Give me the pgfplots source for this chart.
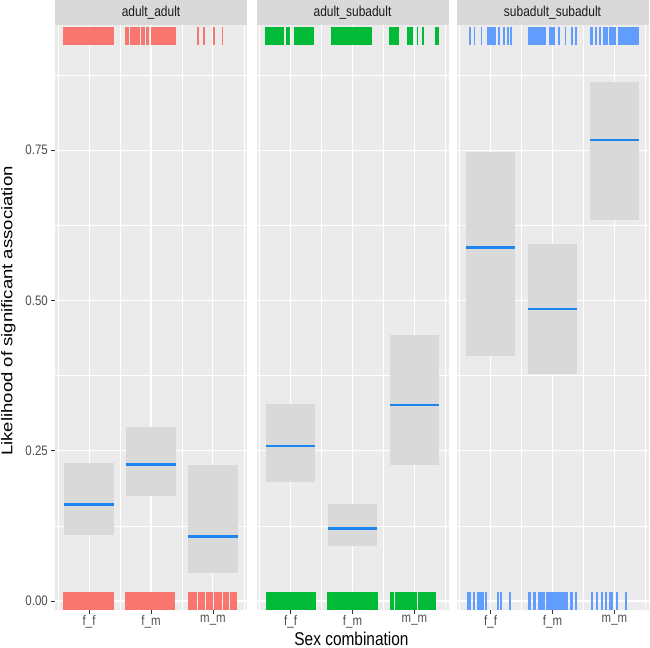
\documentclass[border=0pt]{standalone}
\usepackage{pgfplots}
\pgfplotsset{compat=1.18}
\usepackage{fontspec}
\setmainfont{Liberation Sans}

\definecolor{panelbg}{HTML}{EBEBEB}
\definecolor{stripbg}{HTML}{D9D9D9}
\definecolor{cibox}{HTML}{D9D9D9}
\definecolor{estblue}{HTML}{1C86EE}
\definecolor{rugred}{HTML}{F8766D}
\definecolor{ruggreen}{HTML}{00BA38}
\definecolor{rugblue}{HTML}{619CFF}
\definecolor{ticktext}{HTML}{4D4D4D}
\definecolor{tickcol}{HTML}{333333}

% interval box + estimate line: left, right, low, estimate, high
\newcommand{\ci}[5]{%
  \addplot[fill=cibox, draw=none] coordinates {(#1,#3) (#2,#3) (#2,#5) (#1,#5)};
  \addplot[estblue, line width=2.6bp] coordinates {(#1,#4) (#2,#4)};
}

\pgfplotsset{
  facet/.style={
    scale only axis, width=192bp, height=584.5bp,
    xmin=0.45, xmax=3.55, ymin=-0.015, ymax=0.9576,
    axis background/.style={fill=panelbg},
    axis line style={draw=none},
    xtick={1,2,3}, xticklabels={f\_f,f\_m,m\_m},
    minor xtick={0.5,1.5,2.5,3.5},
    ytick={0,0.25,0.5,0.75},
    minor ytick={0.125,0.375,0.625,0.875},
    grid=both,
    major grid style={white, line width=1.1bp},
    minor grid style={white, line width=0.55bp},
    tick align=outside, tick pos=left,
    major tick length=3.7bp, minor tick length=0pt,
    tick style={tickcol, line width=0.6bp},
    ticklabel style={font=\fontsize{11.5}{13}\selectfont, text=ticktext, yscale=1.2},
    xticklabel style={inner sep=1bp},
    /pgf/number format/assume math mode=true,
    yticklabel style={/pgf/number format/fixed, /pgf/number format/fixed zerofill, /pgf/number format/precision=2},
    every axis title shift=0pt,
    title style={fill=stripbg, minimum width=192bp, minimum height=21.25bp, inner sep=0pt,
      anchor=south, yscale=1.2, text=black!90, font=\fontsize{12}{14}\selectfont},
  },
  noy/.style={yticklabels={}, ytick style={draw=none}},
  rug/.style={only marks, mark=|, mark size=9bp, color=#1, line width=1.9bp},
}

\begin{document}
\begin{tikzpicture}
\useasboundingbox (0bp,-38bp) rectangle (650bp,610bp);

\begin{axis}[facet, at={(55bp,0bp)}, anchor=south west, title={adult\_adult},
  ylabel={Likelihood of significant association},
  every axis y label/.style={at={(axis description cs:-0.281,0.5115)}, rotate=90, xscale=1.2,
    anchor=north, inner sep=0pt, font=\fontsize{15.5}{18}\selectfont, text=black}]
\ci{0.6}{1.4}{0.109}{0.161}{0.230}
\ci{1.6}{2.4}{0.175}{0.227}{0.289}
\ci{2.6}{3.4}{0.046}{0.107}{0.227}
\addplot[rug=rugred] coordinates {
(0.60,0.94)(0.63,0.94)(0.66,0.94)(0.69,0.94)(0.72,0.94)(0.75,0.94)(0.78,0.94)(0.81,0.94)(0.84,0.94)
(0.87,0.94)(0.90,0.94)(0.93,0.94)(0.96,0.94)(0.99,0.94)(1.02,0.94)(1.05,0.94)(1.08,0.94)(1.11,0.94)
(1.14,0.94)(1.17,0.94)(1.20,0.94)(1.23,0.94)(1.26,0.94)(1.29,0.94)(1.32,0.94)(1.35,0.94)(1.38,0.94)
(1.60,0.94)(1.63,0.94)(1.68,0.94)(1.71,0.94)(1.74,0.94)(1.77,0.94)(1.80,0.94)(1.86,0.94)(1.89,0.94)
(1.93,0.94)(1.96,0.94)(2.02,0.94)(2.05,0.94)(2.08,0.94)(2.11,0.94)(2.14,0.94)(2.17,0.94)(2.20,0.94)
(2.23,0.94)(2.26,0.94)(2.29,0.94)(2.32,0.94)(2.36,0.94)(2.39,0.94)
(2.765,0.94)(2.854,0.94)(3.024,0.94)(3.155,0.94)
};
\addplot[rug=rugred] coordinates {
(0.60,0)(0.63,0)(0.66,0)(0.69,0)(0.72,0)(0.75,0)(0.78,0)(0.81,0)(0.84,0)
(0.87,0)(0.90,0)(0.93,0)(0.96,0)(0.99,0)(1.02,0)(1.05,0)(1.08,0)(1.11,0)
(1.14,0)(1.17,0)(1.20,0)(1.23,0)(1.26,0)(1.29,0)(1.32,0)(1.35,0)(1.38,0)
(1.60,0)(1.63,0)(1.66,0)(1.69,0)(1.72,0)(1.75,0)(1.78,0)(1.81,0)(1.84,0)
(1.87,0)(1.90,0)(1.93,0)(1.96,0)(1.99,0)(2.02,0)(2.05,0)(2.08,0)(2.11,0)
(2.14,0)(2.17,0)(2.20,0)(2.23,0)(2.26,0)(2.29,0)(2.32,0)(2.35,0)(2.38,0)
(2.62,0)(2.65,0)(2.68,0)(2.71,0)(2.73,0)(2.775,0)(2.80,0)(2.83,0)(2.86,0)
(2.91,0)(2.94,0)(2.97,0)(2.99,0)(3.03,0)(3.06,0)(3.09,0)(3.12,0)(3.13,0)
(3.175,0)(3.20,0)(3.23,0)(3.25,0)(3.29,0)(3.32,0)(3.35,0)(3.37,0)
};
\end{axis}

\begin{axis}[facet, noy, at={(256.5bp,0bp)}, anchor=south west, title={adult\_subadult}]
\ci{0.6}{1.4}{0.198}{0.258}{0.327}
\ci{1.6}{2.4}{0.091}{0.121}{0.161}
\ci{2.6}{3.4}{0.227}{0.326}{0.442}
\addplot[rug=ruggreen] coordinates {
(0.595,0.94)(0.625,0.94)(0.655,0.94)(0.685,0.94)(0.715,0.94)(0.745,0.94)(0.775,0.94)(0.805,0.94)
(0.835,0.94)(0.865,0.94)(0.885,0.94)(0.945,0.94)(0.98,0.94)(1.067,0.94)(1.097,0.94)(1.127,0.94)
(1.157,0.94)(1.187,0.94)(1.217,0.94)(1.247,0.94)(1.277,0.94)(1.307,0.94)(1.337,0.94)(1.365,0.94)
(1.665,0.94)(1.695,0.94)(1.725,0.94)(1.755,0.94)(1.785,0.94)(1.815,0.94)(1.845,0.94)(1.875,0.94)
(1.905,0.94)(1.935,0.94)(1.965,0.94)(1.995,0.94)(2.025,0.94)(2.055,0.94)(2.085,0.94)(2.115,0.94)
(2.145,0.94)(2.175,0.94)(2.205,0.94)(2.235,0.94)(2.265,0.94)(2.30,0.94)
(2.60,0.94)(2.63,0.94)(2.66,0.94)(2.69,0.94)(2.72,0.94)(2.728,0.94)(2.895,0.94)(2.925,0.94)
(2.955,0.94)(2.968,0.94)(3.05,0.94)(3.14,0.94)(3.345,0.94)(3.38,0.94)
};
\addplot[rug=ruggreen] coordinates {
(0.62,0)(0.65,0)(0.68,0)(0.71,0)(0.74,0)(0.77,0)(0.80,0)(0.83,0)(0.86,0)(0.89,0)(0.92,0)(0.95,0)
(0.98,0)(1.01,0)(1.04,0)(1.07,0)(1.10,0)(1.13,0)(1.16,0)(1.19,0)(1.22,0)(1.25,0)(1.28,0)(1.31,0)
(1.34,0)(1.37,0)(1.39,0)
(1.61,0)(1.64,0)(1.67,0)(1.70,0)(1.73,0)(1.76,0)(1.79,0)(1.82,0)(1.85,0)(1.88,0)(1.91,0)(1.94,0)
(1.97,0)(2.00,0)(2.03,0)(2.06,0)(2.09,0)(2.12,0)(2.15,0)(2.18,0)(2.21,0)(2.24,0)(2.27,0)(2.30,0)
(2.33,0)(2.36,0)(2.39,0)
(2.625,0)(2.66,0)(2.70,0)(2.74,0)(2.77,0)(2.80,0)(2.83,0)(2.86,0)(2.89,0)(2.92,0)(2.95,0)(2.98,0)
(3.01,0)(3.025,0)(3.08,0)(3.11,0)(3.14,0)(3.17,0)(3.20,0)(3.23,0)(3.26,0)(3.29,0)(3.32,0)(3.335,0)
};
\end{axis}

\begin{axis}[facet, noy, at={(456.5bp,0bp)}, anchor=south west, title={subadult\_subadult}]
\ci{0.6}{1.4}{0.407}{0.588}{0.747}
\ci{1.6}{2.4}{0.378}{0.486}{0.594}
\ci{2.6}{3.4}{0.634}{0.767}{0.863}
\addplot[rug=rugblue] coordinates {
(0.661,0.94)(0.741,0.94)(0.853,0.94)(0.96,0.94)(0.99,0.94)(1.02,0.94)(1.05,0.94)(1.077,0.94)
(1.13,0.94)(1.221,0.94)(1.282,0.94)(1.33,0.94)
(1.615,0.94)(1.645,0.94)(1.675,0.94)(1.705,0.94)(1.735,0.94)(1.765,0.94)(1.795,0.94)(1.825,0.94)
(1.855,0.94)(1.885,0.94)(1.96,0.94)(1.99,0.94)(2.02,0.94)(2.10,0.94)(2.21,0.94)(2.32,0.94)(2.384,0.94)
(2.613,0.94)(2.635,0.94)(2.695,0.94)(2.765,0.94)(2.825,0.94)(2.855,0.94)(2.875,0.94)(2.933,0.94)
(2.963,0.94)(2.993,0.94)(3.008,0.94)(3.066,0.94)(3.096,0.94)(3.126,0.94)(3.156,0.94)(3.186,0.94)
(3.216,0.94)(3.246,0.94)(3.276,0.94)(3.306,0.94)(3.336,0.94)(3.366,0.94)(3.38,0.94)
};
\addplot[rug=rugblue] coordinates {
(0.636,0)(0.664,0)(0.73,0)(0.80,0)(0.83,0)(0.86,0)(0.875,0)(0.93,0)(1.117,0)(1.165,0)(1.31,0)
(1.625,0)(1.645,0)(1.695,0)(1.725,0)(1.785,0)(1.815,0)(1.845,0)(1.865,0)(1.915,0)(1.945,0)
(1.975,0)(2.005,0)(2.035,0)(2.065,0)(2.095,0)(2.125,0)(2.155,0)(2.185,0)(2.215,0)(2.235,0)
(2.295,0)(2.315,0)(2.375,0)
(2.635,0)(2.715,0)(2.80,0)(2.86,0)(2.92,0)(2.95,0)(2.965,0)(3.035,0)(3.18,0)
};
\end{axis}

\node[font=\fontsize{15.5}{18}\selectfont, inner sep=0pt] at (351.5bp,-28.5bp) {\scalebox{1}[1.2]{Sex combination}};
\end{tikzpicture}
\end{document}
